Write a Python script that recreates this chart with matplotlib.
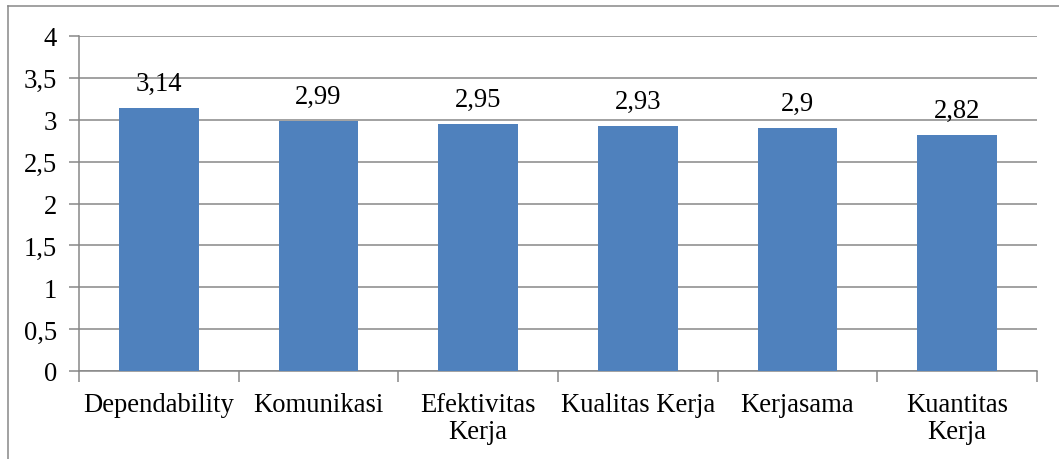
import matplotlib
matplotlib.use("Agg")
import matplotlib.pyplot as plt
from matplotlib.lines import Line2D

categories = ["Dependability", "Komunikasi", "Efektivitas\nKerja",
              "Kualitas Kerja", "Kerjasama", "Kuantitas\nKerja"]
values = [3.14, 2.99, 2.95, 2.93, 2.90, 2.82]
yticks = [0, 0.5, 1, 1.5, 2, 2.5, 3, 3.5, 4]

plt.rcParams["font.family"] = ["Liberation Serif", "DejaVu Serif"]
FS = 19.2
GREY = "#878787"
BAR = "#4F81BD"

fig = plt.figure(figsize=(10.59, 4.60), dpi=100)
ax = fig.add_axes([79 / 1059, 1 - 372 / 460, (1037 - 79) / 1059, (372 - 37) / 460])

x = list(range(len(categories)))
ax.bar(x, values, width=0.5, color=BAR, zorder=3)

ax.set_xlim(-0.5, len(categories) - 0.5)
ax.set_ylim(0, 4)
ax.set_yticks(yticks)
ax.set_yticklabels([f"{v:g}".replace(".", ",") for v in yticks], fontsize=FS)
ax.yaxis.grid(True, color=GREY, linewidth=1.1, zorder=0)
ax.set_axisbelow(True)

# category labels centred, tick marks at category boundaries
ax.set_xticks(x)
ax.set_xticklabels(categories, fontsize=FS, linespacing=1.1)
ax.tick_params(axis="x", which="major", length=0, pad=15)
ax.set_xticks([i - 0.5 for i in range(len(categories) + 1)], minor=True)
ax.tick_params(axis="x", which="minor", length=8, width=1.1, color=GREY, direction="out")
ax.tick_params(axis="y", length=7, width=1.1, color=GREY, pad=9)

for side in ("top", "right"):
    ax.spines[side].set_visible(False)
for side in ("left", "bottom"):
    ax.spines[side].set_color(GREY)
    ax.spines[side].set_linewidth(1.1)

for xi, v in zip(x, values):
    ax.annotate(f"{v:g}".replace(".", ","), (xi, v), xytext=(0, 13),
                textcoords="offset points", ha="center", va="baseline",
                fontsize=FS)

# chart area frame
fig.add_artist(Line2D([8 / 1059, 8 / 1059], [0, 1 - 7 / 460],
                      transform=fig.transFigure, color=GREY, linewidth=1.1))
fig.add_artist(Line2D([8 / 1059, 1], [1 - 7 / 460, 1 - 7 / 460],
                      transform=fig.transFigure, color=GREY, linewidth=1.1))

fig.savefig("out.png", dpi=100)
